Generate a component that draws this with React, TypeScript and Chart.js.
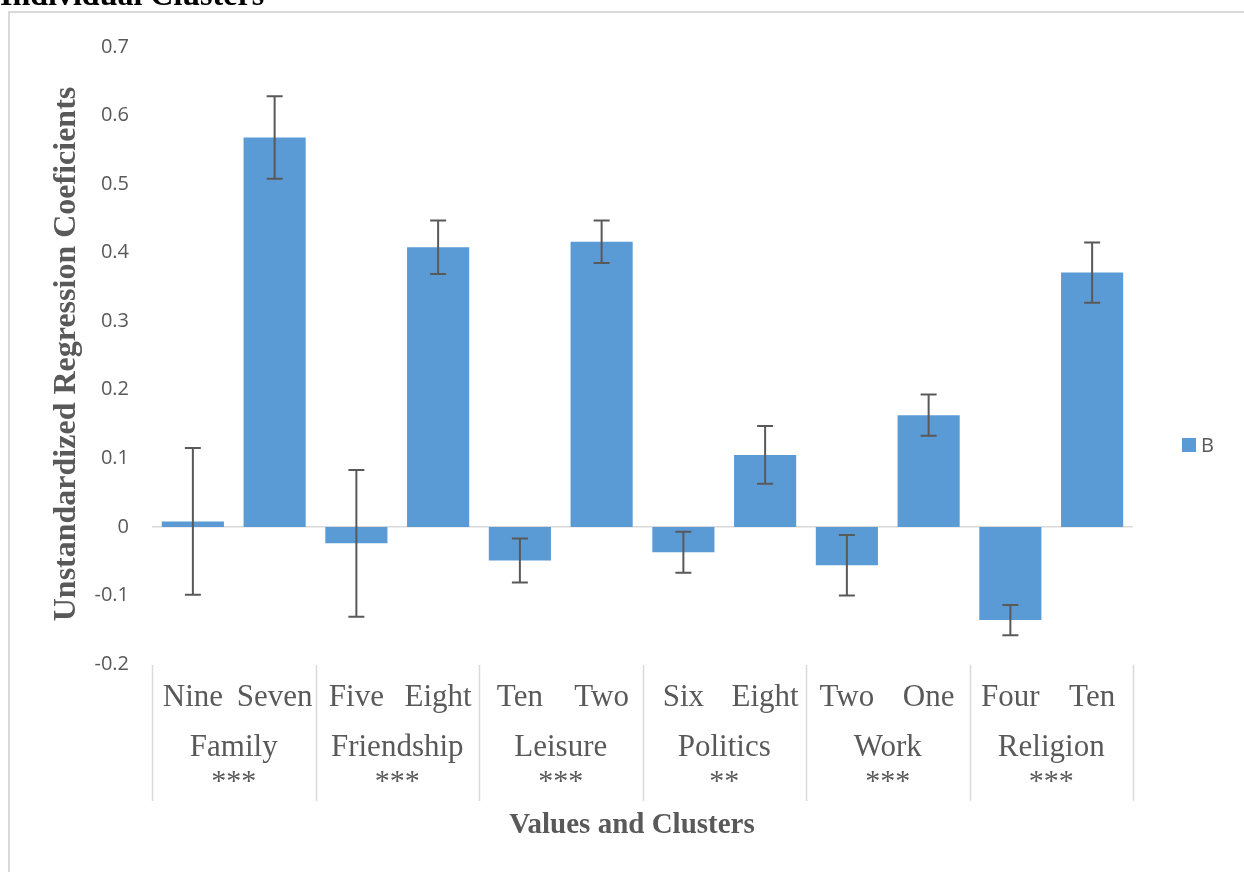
import React, { useEffect, useRef } from "react";
import { Chart, registerables } from "chart.js";

Chart.register(...registerables);

const barLabels = ["Nine", "Seven", "Five", "Eight", "Ten", "Two", "Six", "Eight", "Two", "One", "Four", "Ten"];
const clusterNames = ["Family", "Friendship", "Leisure", "Politics", "Work", "Religion"];
const significance = ["***", "***", "***", "**", "***", "***"];
const coefficients = [0.008, 0.568, -0.024, 0.408, -0.049, 0.416, -0.037, 0.105, -0.056, 0.163, -0.136, 0.371];
const errorMargins = [0.107, 0.06, 0.107, 0.039, 0.032, 0.031, 0.03, 0.042, 0.044, 0.03, 0.022, 0.044];
const seriesName = "B";
const pageTitle = "Individual Clusters";
const yTitle = "Unstandardized Regression Coeficients";
const xTitle = "Values and Clusters";

const W = 1244;
const H = 872;
const GREY = "#595959";
const LIGHT = "#d9d9d9";
const BLUE = "#5b9bd5";
const SERIF = "'Liberation Serif', 'Times New Roman', serif";
const SANS = "'Open Sans', 'Liberation Sans', sans-serif";

const overlayPlugin = {
  id: "overlay",
  afterDatasetsDraw(chart: any) {
    const ctx = chart.ctx;
    const y = chart.scales.y;
    const meta = chart.getDatasetMeta(0);
    ctx.save();
    ctx.strokeStyle = GREY;
    ctx.lineWidth = 2;
    meta.data.forEach((bar: any, i: number) => {
      const v = coefficients[i];
      const e = errorMargins[i];
      const x = bar.x;
      const yTop = y.getPixelForValue(v + e);
      const yBot = y.getPixelForValue(v - e);
      ctx.beginPath();
      ctx.moveTo(x, yTop);
      ctx.lineTo(x, yBot);
      ctx.moveTo(x - 8, yTop);
      ctx.lineTo(x + 8, yTop);
      ctx.moveTo(x - 8, yBot);
      ctx.lineTo(x + 8, yBot);
      ctx.stroke();
    });
    ctx.restore();
  },
  afterDraw(chart: any) {
    const ctx = chart.ctx;
    const xs = chart.scales.x;
    const area = chart.chartArea;
    ctx.save();
    // dividers
    const groupW = (xs.right - xs.left) / clusterNames.length;
    ctx.strokeStyle = LIGHT;
    ctx.lineWidth = 1.5;
    for (let g = 0; g <= clusterNames.length; g++) {
      const x = Math.round(xs.left + g * groupW) + 0.5;
      ctx.beginPath();
      ctx.moveTo(x, area.bottom + 1);
      ctx.lineTo(x, area.bottom + 137);
      ctx.stroke();
    }
    // cluster labels
    ctx.fillStyle = GREY;
    ctx.textAlign = "center";
    ctx.textBaseline = "middle";
    clusterNames.forEach((name, g) => {
      const cx = (xs.getPixelForValue(2 * g) + xs.getPixelForValue(2 * g + 1)) / 2;
      ctx.font = `31px ${SERIF}`;
      ctx.fillText(name, cx, area.bottom + 84);
      ctx.font = `30px ${SERIF}`;
      ctx.fillText(significance[g], cx, area.bottom + 118);
    });
    // x title
    ctx.font = `bold 29px ${SERIF}`;
    ctx.fillText(xTitle, 632, 826);
    // y title
    ctx.save();
    ctx.translate(67, 354);
    ctx.rotate(-Math.PI / 2);
    ctx.font = `bold 32px ${SERIF}`;
    ctx.fillText(yTitle, 0, 0);
    ctx.restore();
    // legend
    const ds = chart.data.datasets[0];
    ctx.fillStyle = ds.backgroundColor;
    ctx.fillRect(1182, 438, 14, 14);
    ctx.fillStyle = GREY;
    ctx.textAlign = "left";
    ctx.font = `20px ${SANS}`;
    ctx.fillText(ds.label, 1201, 446);
    // cropped page title
    ctx.fillStyle = "#000000";
    ctx.textBaseline = "alphabetic";
    ctx.font = `bold 32px ${SERIF}`;
    ctx.fillText(pageTitle, 0, 5);
    ctx.restore();
  },
};

export default function App() {
  const ref = useRef<HTMLCanvasElement>(null);
  useEffect(() => {
    document.body.style.overflow = "hidden";
    const canvas = ref.current!;
    const chart = new Chart(canvas, {
      type: "bar",
      data: {
        labels: barLabels,
        datasets: [
          {
            label: seriesName,
            data: coefficients,
            backgroundColor: BLUE,
            borderWidth: 0,
            categoryPercentage: 1,
            barPercentage: 0.76,
          },
        ],
      },
      options: {
        animation: false,
        responsive: false,
        devicePixelRatio: 1,
        layout: { padding: { left: 0, top: 47, right: 111, bottom: 0 } },
        plugins: {
          legend: { display: false },
          tooltip: { enabled: false },
          title: { display: false },
        },
        scales: {
          x: {
            grid: { display: false },
            border: { display: false },
            ticks: {
              color: GREY,
              font: { family: SERIF, size: 31 },
              padding: 7,
              maxRotation: 0,
              autoSkip: false,
            },
            afterFit: (s: any) => {
              s.height = H - 664;
            },
          },
          y: {
            min: -0.2,
            max: 0.7,
            border: { display: false },
            grid: {
              drawTicks: false,
              lineWidth: 1.5,
              color: (c: any) => (c.tick && Math.abs(c.tick.value) < 1e-9 ? LIGHT : "rgba(0,0,0,0)"),
            },
            ticks: {
              stepSize: 0.1,
              color: GREY,
              font: { family: SANS, size: 20 },
              padding: 23,
              callback: (v: any) => String(Number(Number(v).toFixed(1))),
            },
            afterFit: (s: any) => {
              s.width = 152;
            },
          },
        },
      },
      plugins: [overlayPlugin],
    });
    return () => chart.destroy();
  }, []);
  return (
    <div style={{ position: "fixed", left: 0, top: 0, width: W, height: H, background: "#fff" }}>
      <div
        style={{
          position: "absolute",
          left: 8,
          top: 11,
          width: W,
          height: H,
          border: `2px solid ${LIGHT}`,
          boxSizing: "border-box",
        }}
      />
      <canvas ref={ref} width={W} height={H} style={{ position: "absolute", left: 0, top: 0, width: W, height: H }} />
    </div>
  );
}
